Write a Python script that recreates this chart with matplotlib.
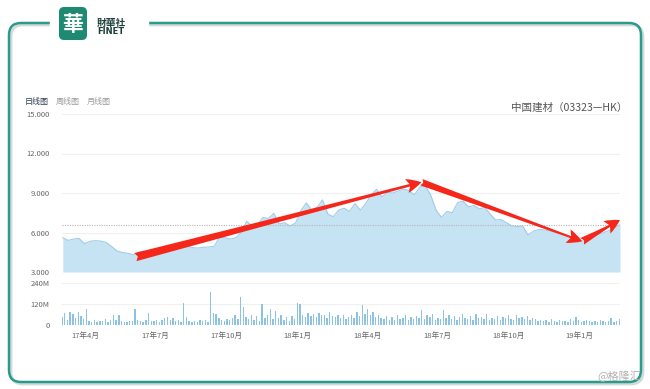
import matplotlib
matplotlib.use('Agg')
import matplotlib.pyplot as plt
import matplotlib.dates as mdates
from matplotlib.patches import FancyBboxPatch, Rectangle
import pandas as pd

CJK = ['Noto Sans CJK SC', 'DejaVu Sans']
plt.rcParams['font.family'] = CJK

# weekly closes (HKD)
price_dates = pd.date_range('2017-03-03', periods=104, freq='W-FRI')
prices = [5.6, 5.4, 5.5, 5.55, 5.15, 5.33, 5.38, 5.35, 5.25, 4.95,
          4.6, 4.48, 4.42, 4.32, 4.5, 4.58, 4.5, 4.45, 4.52, 4.6,
          4.68, 4.74, 4.85, 4.95, 4.85, 4.82, 4.88, 4.9, 4.95, 5.68,
          5.6, 5.5, 5.6, 6.0, 6.85, 6.5, 6.55, 7.15, 7.05, 7.45,
          6.65, 6.74, 6.5, 6.7, 7.65, 8.25, 7.72, 7.9, 8.48, 7.4,
          7.2, 7.7, 7.85, 7.6, 8.2, 7.7, 8.2, 8.85, 9.28, 8.7,
          9.05, 9.0, 9.15, 9.3, 9.18, 8.85, 9.45, 9.55, 8.85, 7.7,
          7.15, 7.6, 7.5, 8.28, 8.38, 7.95, 8.05, 7.8, 7.9, 7.4,
          6.95, 6.98, 6.75, 6.5, 6.45, 6.5, 5.8, 6.1, 6.23, 6.2,
          6.12, 6.0, 5.9, 5.82, 5.7, 5.5, 5.35, 5.58, 5.72, 5.85,
          6.0, 6.15, 6.35, 6.6]

# turnover volume (millions of shares), about two bars per week
volume = [45, 70, 30, 72, 65, 40, 75, 50, 35, 90,
          25, 20, 30, 18, 22, 25, 35, 20, 28,
          57, 30, 55, 25, 20, 18, 25, 22, 90, 30,
          25, 20, 30, 66, 22, 25, 30, 20, 28,
          40, 45, 30, 38, 25, 30, 20, 125, 45,
          22, 20, 25, 18, 28, 25, 30, 20, 188,
          70, 65, 40, 30, 25, 35, 28, 40, 55, 35,
          160, 105, 45, 35, 60, 30, 50, 25, 120, 40,
          60, 90, 35, 82, 40, 57, 30, 45, 25,
          50, 35, 125, 120, 60, 45, 70, 50, 65, 45,
          70, 55, 60, 40, 75, 50, 45, 60, 40,
          55, 35, 45, 60, 40, 75, 50, 115, 65,
          90, 55, 75, 45, 60, 40, 35, 50, 30,
          45, 30, 55, 35, 40, 60, 30, 45, 35,
          50, 40, 85, 35, 55, 45, 65, 30, 40, 35,
          85, 40, 55, 35, 50, 30, 45, 65, 40,
          35, 50, 30, 65, 40, 45, 35, 65, 30,
          40, 35, 50, 30, 45, 40, 55, 35, 30,
          57, 40, 45, 35, 50, 30, 40, 35, 25, 30,
          25, 30, 20, 35, 25, 20, 30, 22, 25,
          20, 35, 25, 47, 30, 20, 25, 30, 22, 20,
          25, 20, 30, 22, 18, 25, 40, 20, 22, 35, 25]
vol_dates = pd.date_range('2017-03-02', periods=len(volume), freq='84h')

price_ticks = [3, 6, 9, 12, 15]
vol_ticks = [0, 120, 240]
vol_labels = ['0', '120M', '240M']
month_ticks = ['2017-04-01', '2017-07-01', '2017-10-01', '2018-01-01',
               '2018-04-01', '2018-07-01', '2018-10-01', '2019-01-01']
month_labels = ['17年4月', '17年7月', '17年10月', '18年1月',
                '18年4月', '18年7月', '18年10月', '19年1月']

# trend arrows drawn on the chart (date, price)
trend = [('2017-06-05', 4.13), ('2018-06-10', 9.82),
         ('2019-01-04', 5.33), ('2019-02-22', 6.95)]

xmin, xmax = pd.Timestamp('2017-03-02'), pd.Timestamp('2019-02-22')

fig = plt.figure(figsize=(6.5, 3.89), dpi=100)

# frame / logo, in pixel coords
bg = fig.add_axes([0, 0, 1, 1], zorder=-1)
bg.set_xlim(0, 650)
bg.set_ylim(389, 0)
bg.axis('off')
bg.add_patch(FancyBboxPatch((11, 25), 632, 359, boxstyle='round,pad=0,rounding_size=12',
                            fill=False, ec='#d3dbd9', lw=2))
bg.add_patch(FancyBboxPatch((9, 23), 632, 359, boxstyle='round,pad=0,rounding_size=12',
                            fill=False, ec='#2a9a8c', lw=1.8))
bg.add_patch(Rectangle((50, 12), 98, 20, color='white'))
bg.add_patch(FancyBboxPatch((59, 7), 28, 33, boxstyle='round,pad=0,rounding_size=5',
                            fc='#1e8a72', ec='none'))
bg.text(73, 24, '華', color='white', fontsize=15, fontweight='bold',
        ha='center', va='center')
bg.text(97, 22.5, '財華社', color='#1d3f3b', fontsize=7, fontweight='bold',
        ha='left', va='center', family=['Noto Sans CJK TC', 'DejaVu Sans'])
bg.text(97, 31, 'FINET', color='#1d3f3b', fontsize=6, fontweight='bold',
        ha='left', va='center', family='DejaVu Sans')
bg.text(25, 101.5, '日线图', color='#2c3e50', fontsize=5.8, va='center')
bg.text(56, 101.5, '周线图', color='#9a9a9a', fontsize=5.8, va='center')
bg.text(87, 101.5, '月线图', color='#9a9a9a', fontsize=5.8, va='center')
bg.text(627, 108, '中国建材（03323—HK）', color='#555555', fontsize=7.6,
        ha='right', va='center')
bg.text(641, 376, '@格隆汇', color='#b0b0b0', fontsize=8, ha='right', va='center')

# price panel
ax = fig.add_axes([62 / 650, 117 / 389, 558 / 650, 158 / 389])
ax.fill_between(price_dates, prices, 3, color='#c6e3f4', lw=0)
ax.plot(price_dates, prices, color='#9fcce8', lw=0.8)
ax.axhline(prices[-1], color='#b5b5b5', lw=0.8, ls=(0, (1, 1.2)))
ax.set_xlim(xmin, xmax)
ax.set_ylim(3, 15)
ax.set_yticks(price_ticks)
ax.set_yticklabels(['%.3f' % v for v in price_ticks])
ax.set_xticks([])
ax.grid(axis='y', color='#f0f0f0', lw=0.8)
ax.set_axisbelow(True)
for s in ax.spines.values():
    s.set_visible(False)
ax.tick_params(axis='y', length=0, pad=9, labelsize=5.5, labelcolor='#666666')

pts = [(mdates.date2num(pd.Timestamp(d)), p) for d, p in trend]
styles = ['fancy,head_length=0.9,head_width=0.85,tail_width=0.5',
          'fancy,head_length=0.9,head_width=0.85,tail_width=0.4',
          'fancy,head_length=0.9,head_width=0.85,tail_width=0.45']
for i in range(3):
    ax.annotate('', xy=pts[i + 1], xytext=pts[i], annotation_clip=False,
                arrowprops=dict(arrowstyle=styles[i], fc='#f5261a', ec='none',
                                mutation_scale=12, shrinkA=0, shrinkB=0))

# volume panel
vax = fig.add_axes([62 / 650, 64 / 389, 558 / 650, 42 / 389])
vax.bar(vol_dates, volume, width=1.8, color='#8cc3e3', lw=0)
vax.set_xlim(xmin, xmax)
vax.set_ylim(0, 240)
vax.set_yticks(vol_ticks)
vax.set_yticklabels(vol_labels)
vax.set_xticks([pd.Timestamp(d) for d in month_ticks])
vax.set_xticklabels(month_labels)
vax.grid(axis='y', color='#f0f0f0', lw=0.8)
vax.set_axisbelow(True)
for s in vax.spines.values():
    s.set_visible(False)
vax.tick_params(length=0, labelsize=5.5, labelcolor='#666666')
vax.tick_params(axis='y', pad=9)
vax.tick_params(axis='x', pad=5)

fig.savefig('out.png', dpi=100)
